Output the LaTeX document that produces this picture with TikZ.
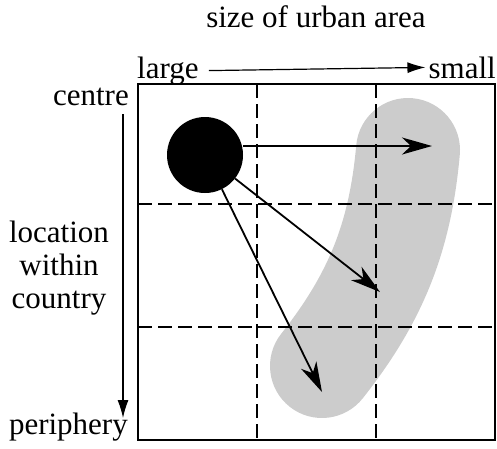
\documentclass[tikz,border=0pt]{standalone}
\usepackage{fontspec}
\setmainfont{Liberation Serif}
\usepackage{xcolor}
\definecolor{blobgray}{rgb}{0.8, 0.8, 0.8}
\usetikzlibrary{arrows.meta,positioning,backgrounds}
\tikzset{
  >={Latex[length=18pt,width=11pt]},
  label/.style={font=\fontsize{31}{33}\selectfont,inner sep=0pt},
  axis/.style={->,line width=1.2pt},
  grid/.style={line width=1.2pt,dash pattern=on 14pt off 6pt},
  frame/.style={line width=1.8pt},
  city/.style={circle,fill=black,minimum size=76pt,inner sep=0pt},
  flow/.style={-{Stealth[length=30pt,width=17pt,inset=9pt]},line width=1.8pt},
  blob/.style={line width=104pt,draw=blobgray,line cap=round}
}

\begin{document}
\begin{tikzpicture}[x=1pt,y=-1pt]
  \useasboundingbox (0,0) rectangle (497,448);

  % Labels
  \node[label] (title) at (316,17) {size of urban area};
  \node[label,anchor=base west] (large) at (137,78) {large};
  \node[label,anchor=base east] (small) at (496,78) {small};
  \node[label,anchor=base east] (centre) at (129,105) {centre};
  \node[label,anchor=base east] (periphery) at (128,434) {periphery};
  \node[label,align=center] (loc) at (59,268) {location\\within\\country};
  \coordinate (top) at (123,114);
  \coordinate (bottom) at (123,418);

  % Axes
  \draw[axis] ([xshift=10pt]large.east) -- ([xshift=-3pt]small.west);
  \draw[axis] (top) -- (bottom);

  % Grey band of small towns
  \begin{scope}[on background layer]
    \draw[blob] (408,150) .. controls (400,240) and (374,300) .. (322,366);
  \end{scope}

  % Grid
  \draw[grid] (257,84) -- (257,440);
  \draw[grid] (376,84) -- (376,440);
  \draw[grid] (138,204) -- (495,204);
  \draw[grid] (138,327) -- (495,327);
  \draw[frame] (138,84) rectangle (495,440);

  % City and flows
  \node[city] (big) at (205,155) {};
  \coordinate (t1) at (432,146);
  \coordinate (t2) at (380,292);
  \coordinate (t3) at (322,392);
  \draw[flow] (big.east |- t1) -- (t1);
  \draw[flow] (big) -- (t2);
  \draw[flow] (big) -- (t3);
\end{tikzpicture}
\end{document}
